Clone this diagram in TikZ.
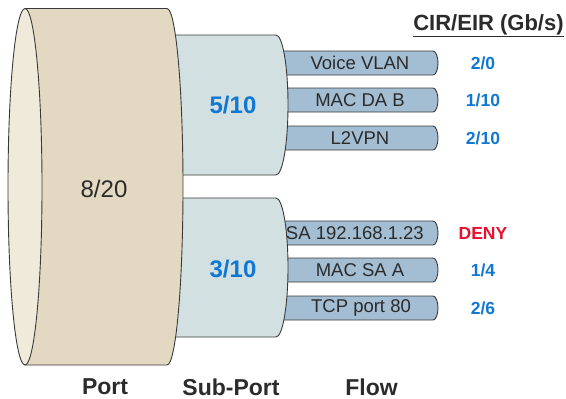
\documentclass[tikz,border=0pt]{standalone}
\usepackage{fontspec}
\setmainfont{Liberation Sans}
\definecolor{txtdark}{HTML}{2B2B2B}
\definecolor{rateblue}{HTML}{1078D2}
\definecolor{denyred}{HTML}{E8102E}
\definecolor{pipefill}{HTML}{A3BDD2}
\definecolor{subfill}{HTML}{D3E0E2}
\definecolor{portfill}{HTML}{E3D9C2}
\definecolor{facefill}{HTML}{F0EADA}
\definecolor{edgecol}{HTML}{3A3A3A}
\tikzset{
  pipe/.style={draw=edgecol, line width=0.9pt, fill=pipefill},
  subport/.style={draw=edgecol, line width=0.9pt, fill=subfill},
  portbody/.style={draw=edgecol, line width=0.9pt, fill=portfill},
  portface/.style={draw=edgecol, line width=0.9pt, fill=facefill},
  pipetext/.style={text=txtdark, inner sep=0pt, font=\fontsize{18.5}{20}\selectfont},
  rate/.style={text=rateblue, inner sep=0pt, font=\fontsize{17.5}{20}\selectfont\bfseries},
  bignum/.style={text=rateblue, inner sep=0pt, font=\fontsize{24}{28}\selectfont\bfseries},
  axislabel/.style={text=txtdark, inner sep=0pt, font=\fontsize{23}{26}\selectfont\bfseries},
}
\begin{document}
\begin{tikzpicture}[x=1pt,y=-1pt]
\useasboundingbox (0,0) rectangle (566,399);
% flow pipes
\foreach \t in {51,88,126,221,258,296}{
  \draw[pipe] (250,\t) -- (433,\t) arc[start angle=-90,end angle=90,x radius=5,y radius=12] -- (250,\t+24) -- cycle;
}
\node[pipetext] (f1) at (360,63) {Voice VLAN};
\node[pipetext] (f2) at (360,100) {MAC DA B};
\node[pipetext] (f3) at (360,138) {L2VPN};
\node[pipetext, anchor=east] (f4) at (424,233) {SA 192.168.1.23};
\node[pipetext] (f5) at (360,270) {MAC SA A};
\node[pipetext] (f6) at (361,308) {TCP port 80};
% sub-ports
\draw[subport] (150,35) -- (276,35) arc[start angle=-90,end angle=90,x radius=12,y radius=70] -- (150,175) -- cycle;
\draw[subport] (150,198) -- (276,198) arc[start angle=-90,end angle=90,x radius=12,y radius=69.5] -- (150,337) -- cycle;
\node[bignum] (s1) at (233,105) {5/10};
\node[bignum] (s2) at (233,269) {3/10};
% port
\draw[portbody] (25,8.5) -- (167,8.5) arc[start angle=-90,end angle=90,x radius=16,y radius=178.25] -- (25,365) -- cycle;
\draw[portface] (25,186.75) ellipse[x radius=17, y radius=178.25];
\node[text=txtdark, inner sep=0pt, font=\fontsize{24}{28}\selectfont] (p) at (104,189) {8/20};
% rates
\node[text=txtdark, inner sep=0pt, font=\fontsize{22}{24}\selectfont\bfseries] (hdr) at (488.5,26) {\underline{CIR/EIR (Gb/s)}};
\node[rate] (r1) at (483,63) {2/0};
\node[rate] (r2) at (483,100) {1/10};
\node[rate] (r3) at (483,138) {2/10};
\node[rate, text=denyred] (r4) at (483,233) {DENY};
\node[rate] (r5) at (483,270) {1/4};
\node[rate] (r6) at (483,308) {2/6};
% bottom labels
\node[axislabel] (l1) at (105,387) {Port};
\node[axislabel] (l2) at (231,387) {Sub-Port};
\node[axislabel] (l3) at (371.5,387) {Flow};
\end{tikzpicture}
\end{document}
